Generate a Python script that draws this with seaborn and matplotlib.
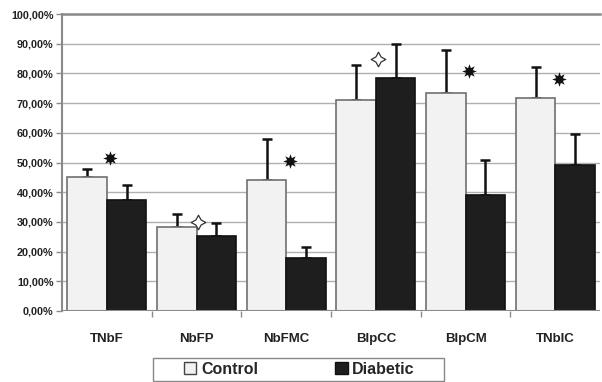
import numpy as np
import pandas as pd
import seaborn as sns
import matplotlib.pyplot as plt
from matplotlib.patches import Patch, Rectangle
from matplotlib.ticker import FuncFormatter, FixedLocator

# values (percent)
categories = ["TNbF", "NbFP", "NbFMC", "BlpCC", "BlpCM", "TNbIC"]
control = [45.0, 28.2, 44.0, 71.0, 73.3, 71.8]
control_err = [2.8, 4.6, 14.0, 12.0, 14.7, 10.4]
diabetic = [37.5, 25.3, 18.0, 78.5, 39.0, 49.3]
diabetic_err = [4.8, 4.2, 3.5, 11.3, 11.8, 10.2]
sig_y = [51.5, 30.0, 50.5, 84.8, 81.0, 78.0]
sig_kind = ["star", "open", "star", "open", "star", "star"]

df = pd.DataFrame({
    "cat": categories * 2,
    "group": ["Control"] * 6 + ["Diabetic"] * 6,
    "val": control + diabetic,
})

sns.set_theme(style="white")
plt.rcParams["font.family"] = ["Liberation Sans", "DejaVu Sans"]

fig = plt.figure(figsize=(6.02, 3.82), dpi=100)
ax = fig.add_axes([0.103, 0.186, 0.894, 0.777])

colors = {"Control": "#f2f2f2", "Diabetic": "#1e1e1e"}
sns.barplot(data=df, x="cat", y="val", hue="group", order=categories,
            hue_order=["Control", "Diabetic"], palette=colors,
            width=0.88, gap=0, legend=False, ax=ax, zorder=3)

bars = [p for p in ax.patches if p.get_height() > 0]
for p in bars:
    p.set_edgecolor("#707070" if p.get_facecolor()[0] > 0.5 else "#111111")
    p.set_linewidth(1.2)

# one-sided error bars
n = len(categories)
xs = [b.get_x() + b.get_width() / 2 for b in bars]
ys = [b.get_height() for b in bars]
errs = control_err + diabetic_err
ax.errorbar(xs, ys, yerr=[np.zeros(len(errs)), errs], fmt="none",
            ecolor="#111111", elinewidth=1.8, capsize=3.5, capthick=1.8, zorder=2)

# significance markers
for i, (yv, k) in enumerate(zip(sig_y, sig_kind)):
    if k == "star":
        ax.scatter(i + 0.04, yv, marker=(8, 1, 0), s=110, color="#111111",
                   zorder=5, linewidths=0)
    else:
        ax.scatter(i + 0.02, yv, marker=(4, 1, 0), s=110, facecolor="white",
                   edgecolor="#333333", linewidths=0.9, zorder=5)

ax.set_ylim(0, 100)
ax.set_xlim(-0.5, n - 0.5)
ax.set_yticks(np.arange(0, 101, 10))
ax.yaxis.set_major_formatter(FuncFormatter(lambda v, _: f"{v:.2f}%".replace(".", ",")))
ax.yaxis.grid(True, color="#b0b0b0", linewidth=1.0, zorder=0)
ax.set_axisbelow(True)
ax.set_xlabel("")
ax.set_ylabel("")

for s in ["right", "bottom"]:
    ax.spines[s].set_visible(False)
ax.spines["left"].set_color("#8a8a8a")
ax.spines["left"].set_linewidth(1.5)
ax.spines["top"].set_color("#8a8a8a")
ax.spines["top"].set_linewidth(1.8)
ax.axhline(0, color="#8a8a8a", linewidth=1.5, zorder=4)

ax.tick_params(axis="y", left=True, length=4, width=1, color="#8a8a8a",
               labelsize=7.8, pad=2)
for t in ax.get_yticklabels():
    t.set_fontweight("bold")
    t.set_color("#222222")

ax.xaxis.set_minor_locator(FixedLocator(np.arange(0.5, n - 0.5, 1)))
ax.tick_params(axis="x", which="major", bottom=False, labelsize=9.5, pad=10)
ax.tick_params(axis="x", which="minor", bottom=True, length=4, width=1, color="#8a8a8a")
for t in ax.get_xticklabels():
    t.set_fontweight("bold")
    t.set_color("#222222")

# legend: items without frame, plus a wider box drawn around them
handles = [Patch(facecolor=colors["Control"], edgecolor="#444444", label="Control"),
           Patch(facecolor=colors["Diabetic"], edgecolor="#111111", label="Diabetic")]
fig.legend(handles=handles, loc="center", bbox_to_anchor=(0.497, 0.033),
           ncol=2, frameon=False, prop={"weight": "bold", "size": 11.5},
           handlelength=0.8, handleheight=0.8, handletextpad=0.3,
           columnspacing=4.8, borderpad=0, borderaxespad=0)
fig.patches.append(Rectangle((0.254, 0.003), 0.483, 0.060, transform=fig.transFigure,
                             facecolor="none", edgecolor="#888888", linewidth=1.0))

fig.savefig("out.png", dpi=100)
